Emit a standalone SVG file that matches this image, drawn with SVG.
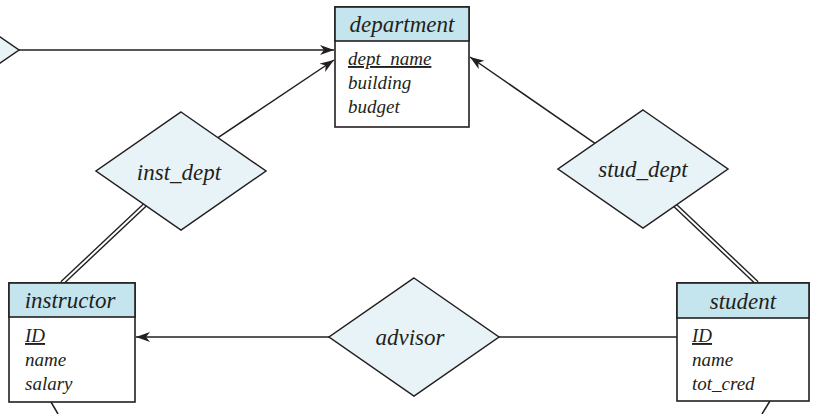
<svg xmlns="http://www.w3.org/2000/svg" width="820" height="414" viewBox="0 0 820 414">
<style>
.ln{stroke:#231f20;stroke-width:1.5;fill:none}
.dbl{stroke:#231f20;stroke-width:4.8;fill:none}
.dblw{stroke:#ffffff;stroke-width:2;fill:none}
.dia{fill:#e8f3f7;stroke:#231f20;stroke-width:1.5}
.hdr{fill:#c4e4ee;stroke:#231f20;stroke-width:1.6}
.body{fill:#ffffff;stroke:#231f20;stroke-width:1.6}
.t{font-family:"Liberation Serif","Times New Roman",serif;font-style:italic;fill:#231f20}
.h{font-size:23px;text-anchor:middle}
.a{font-size:19px}
.r{font-size:23px;text-anchor:middle}
.u{text-decoration:underline}
</style>
<defs>
<marker id="arr" markerUnits="userSpaceOnUse" markerWidth="16" markerHeight="12" refX="14" refY="5" orient="auto">
<path d="M0,0 L14,5 L0,10 L4,5 z" fill="#231f20"/>
</marker>
</defs>
<g id="connectors">
<line class="ln" x1="19" y1="50" x2="334" y2="50" marker-end="url(#arr)"/>
<line class="ln" x1="218" y1="137.7" x2="334" y2="60" marker-end="url(#arr)"/>
<line class="ln" x1="595" y1="143.3" x2="470" y2="57" marker-end="url(#arr)"/>
<line class="ln" x1="329" y1="337" x2="136" y2="337" marker-end="url(#arr)"/>
<line class="ln" x1="499" y1="337" x2="677" y2="337"/>
<line class="dbl" x1="62" y1="283" x2="181" y2="171"/>
<line class="dblw" x1="62" y1="283" x2="181" y2="171"/>
<line class="dbl" x1="757" y1="283" x2="643" y2="175"/>
<line class="dblw" x1="757" y1="283" x2="643" y2="175"/>
<line class="ln" x1="51" y1="402" x2="58" y2="414"/>
<line class="ln" x1="770" y1="401" x2="762" y2="414"/>
</g>
<g id="rel_left">
<polygon class="dia" points="-66,-9 19,50 -66,109 -151,50"/>
</g>
<g id="department">
<rect class="body" x="335" y="7" width="134" height="120"/>
<rect class="hdr" x="335" y="7" width="134" height="34"/>
<text class="t h" x="402" y="32">department</text>
<text class="t a u" x="348" y="65">dept_name</text>
<text class="t a" x="348" y="89">building</text>
<text class="t a" x="348" y="113">budget</text>
</g>
<g id="inst_dept">
<polygon class="dia" points="181,112 266,171 181,230 96,171"/>
<text class="t r" x="179" y="180">inst_dept</text>
</g>
<g id="stud_dept">
<polygon class="dia" points="643,110 728,169 643,228 558,169"/>
<text class="t r" x="643" y="177">stud_dept</text>
</g>
<g id="advisor">
<polygon class="dia" points="414,278 499,337 414,396 329,337"/>
<text class="t r" x="410" y="345">advisor</text>
</g>
<g id="instructor">
<rect class="body" x="9" y="283" width="126" height="119"/>
<rect class="hdr" x="9" y="283" width="126" height="34"/>
<text class="t h" x="70" y="308">instructor</text>
<text class="t a u" x="25" y="342">ID</text>
<text class="t a" x="25" y="366">name</text>
<text class="t a" x="25" y="390">salary</text>
</g>
<g id="student">
<rect class="body" x="677" y="283" width="132" height="118"/>
<rect class="hdr" x="677" y="283" width="132" height="35"/>
<text class="t h" x="743" y="309">student</text>
<text class="t a u" x="692" y="342">ID</text>
<text class="t a" x="692" y="366">name</text>
<text class="t a" x="692" y="390">tot_cred</text>
</g>
</svg>
